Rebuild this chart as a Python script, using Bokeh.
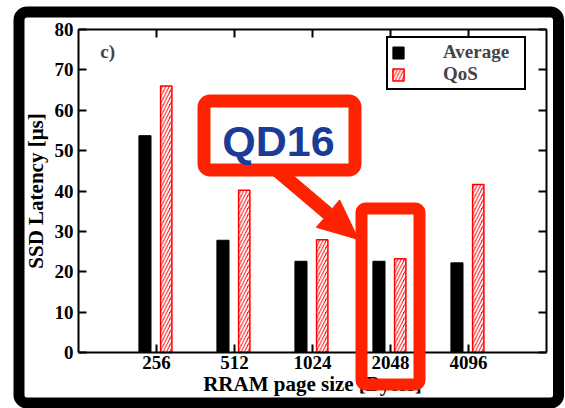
from bokeh.plotting import figure
from bokeh.models import (Range1d, FixedTicker, LinearAxis, Legend, LegendItem, Label,
                          BoxAnnotation, PolyAnnotation, ColumnDataSource)
from bokeh.transform import dodge
from bokeh.embed import file_html
from bokeh.resources import INLINE
import math

# ---- data ----
categories = ["256", "512", "1024", "2048", "4096"]
average = [53.7, 27.8, 22.6, 22.6, 22.2]
qos = [66.0, 40.2, 27.9, 23.2, 41.6]
y_ticks = [0, 10, 20, 30, 40, 50, 60, 70, 80]
x_lo, x_hi = 0, 6
y_lo, y_hi = 0, 80

W, H = 565, 408
# pixel box of the axes (inside the whole-canvas frame)
FL, FR, FT, FB = 78, 546, 29, 352
SERIF = "Liberation Serif"
ANN_RED = "#ff2200"

kx = (FR - FL) / (x_hi - x_lo)
ky = (FB - FT) / (y_hi - y_lo)
x_range = Range1d(x_lo - FL / kx, x_hi + (W - FR) / kx)
y_range = Range1d(y_lo - (H - FB) / ky, y_hi + FT / ky)

p = figure(width=W, height=H, output_backend="svg", toolbar_location=None,
           x_range=x_range, y_range=y_range,
           x_axis_location=None, y_axis_location=None, min_border=0)
p.grid.visible = False
p.outline_line_color = None
p.background_fill_color = "white"
p.border_fill_color = "white"

xs = [i + 1 for i in range(len(categories))]
src = ColumnDataSource(dict(x=xs, avg=average, qos=qos))

bottom_ax = LinearAxis(ticker=FixedTicker(ticks=xs), fixed_location=y_lo, bounds=(x_lo, x_hi),
                       axis_label="RRAM page size [Bytes]")
bottom_ax.major_label_overrides = {x: c for x, c in zip(xs, categories)}
left_ax = LinearAxis(ticker=FixedTicker(ticks=y_ticks), fixed_location=x_lo, bounds=(y_lo, y_hi),
                     axis_label="SSD Latency [μs]")
top_ax = LinearAxis(ticker=FixedTicker(ticks=xs), fixed_location=y_hi, bounds=(x_lo, x_hi))
right_ax = LinearAxis(ticker=FixedTicker(ticks=y_ticks), fixed_location=x_hi, bounds=(y_lo, y_hi))
p.add_layout(bottom_ax, "below")
p.add_layout(left_ax, "left")
p.add_layout(top_ax, "above")
p.add_layout(right_ax, "right")

for ax in [bottom_ax, left_ax, top_ax, right_ax]:
    ax.axis_line_width = 2
    ax.axis_line_color = "black"
    ax.major_tick_line_width = 2
    ax.major_tick_in = 8
    ax.major_tick_out = 0
    ax.minor_tick_in = 0
    ax.minor_tick_out = 0
    ax.major_label_text_font = SERIF
    ax.major_label_text_font_style = "bold"
    ax.major_label_text_font_size = "19px"
    ax.major_label_text_color = "black"
    ax.axis_label_text_font = SERIF
    ax.axis_label_text_font_style = "bold"
    ax.axis_label_text_font_size = "21px"
    ax.axis_label_text_color = "black"

for ax in [top_ax, right_ax]:
    ax.major_label_text_color = None
    ax.major_label_standoff = 0

bottom_ax.major_label_standoff = 3
bottom_ax.axis_label_standoff = 0
left_ax.major_label_standoff = 5
left_ax.axis_label_standoff = 4

r1 = p.vbar(x=dodge('x', -0.148), top='avg', width=0.155, source=src,
            fill_color="black", line_color="black", line_width=1)
r2 = p.vbar(x=dodge('x', 0.125), top='qos', width=0.145, source=src,
            fill_color="#ff0000", line_color="#ff0000", line_width=1.5,
            hatch_pattern="/", hatch_color="white", hatch_weight=2, hatch_scale=6.5)

legend = Legend(items=[LegendItem(label="Average", renderers=[r1]),
                       LegendItem(label="QoS", renderers=[r2])],
                location=(386, H - 90))
legend.border_line_color = "black"
legend.border_line_width = 2
legend.border_line_alpha = 1
legend.background_fill_color = "white"
legend.background_fill_alpha = 1
legend.label_text_font = SERIF
legend.label_text_font_style = "bold"
legend.label_text_font_size = "19px"
legend.glyph_width = 14
legend.glyph_height = 15
legend.label_height = 15
legend.label_width = 78
legend.label_standoff = 38
legend.padding = 3
legend.spacing = 0
legend.margin = 0
p.add_layout(legend)

p.add_layout(Label(x=0.28, y=74.6, text="c)", text_font=SERIF, text_font_style="bold",
                   text_font_size="19px", text_align="left", text_baseline="middle"))


def sx(cx):
    return cx


def sy(cy):
    return H - cy


def screen_box(l, t, r, b, **kw):
    return BoxAnnotation(left=sx(l), right=sx(r), top=sy(t), bottom=sy(b),
                         left_units="screen", right_units="screen",
                         top_units="screen", bottom_units="screen", **kw)


# arrow from QD16 box to the 2048 box
S = (272.0, 166.0)
T = (358.0, 239.0)
d = math.hypot(T[0] - S[0], T[1] - S[1])
u = ((T[0] - S[0]) / d, (T[1] - S[1]) / d)
n = (-u[1], u[0])
L, hw, sw = 40.0, 18.0, 6.5
B = (T[0] - L * u[0], T[1] - L * u[1])
pts = [
    (S[0] + sw * n[0], S[1] + sw * n[1]),
    (B[0] + sw * n[0], B[1] + sw * n[1]),
    (B[0] + hw * n[0], B[1] + hw * n[1]),
    T,
    (B[0] - hw * n[0], B[1] - hw * n[1]),
    (B[0] - sw * n[0], B[1] - sw * n[1]),
    (S[0] - sw * n[0], S[1] - sw * n[1]),
]
p.add_layout(PolyAnnotation(xs=[sx(a) for a, b in pts], ys=[sy(b) for a, b in pts],
                            xs_units="screen", ys_units="screen",
                            fill_color=ANN_RED, fill_alpha=1, line_color=ANN_RED,
                            line_alpha=1, line_width=1))

# QD16 callout box
p.add_layout(screen_box(203.5, 100.5, 354.5, 169.5, fill_color="white", fill_alpha=1,
                        line_color=ANN_RED, line_alpha=1, line_width=13, border_radius=6))
p.add_layout(Label(x=sx(278), y=sy(140), x_units="screen", y_units="screen", text="QD16",
                   text_font="Liberation Sans", text_font_style="bold", text_font_size="43px",
                   text_color="#1a3c96", text_align="center", text_baseline="middle"))

# highlight box around 2048
p.add_layout(screen_box(361, 208, 419, 384, fill_color=None, line_color=ANN_RED,
                        line_alpha=1, line_width=12, border_radius=4))

# outer black frame
p.add_layout(screen_box(18.5, 11.5, 558, 402.5, fill_color=None, line_color="black",
                        line_alpha=1, line_width=11, border_radius=8))

open("out.html", "w").write(file_html(p, INLINE))
